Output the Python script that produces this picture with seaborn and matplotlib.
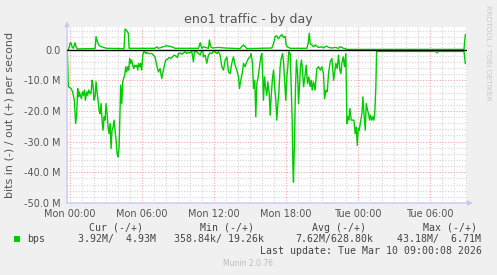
import numpy as np
import pandas as pd
import matplotlib
matplotlib.use("Agg")
import matplotlib.pyplot as plt
import seaborn as sns
from matplotlib.ticker import MultipleLocator, FixedLocator, FuncFormatter
from matplotlib.patches import Rectangle

# ---------------- data (hours since Mon 00:00, values in Mbit/s) ----------------
title = "eno1 traffic - by day"
y_label = "bits in (-) / out (+) per second"

in_hours = [-0.18, -0.10, 0.13, 0.26, 0.40, 0.51, 0.60, 0.68, 0.76, 0.82, 0.90, 0.99, 1.07, 1.15,
            1.24, 1.32, 1.43, 1.51, 1.60, 1.71, 1.79, 1.88, 1.96, 2.04, 2.13, 2.21, 2.29, 2.38,
            2.46, 2.54, 2.63, 2.71, 2.79, 2.88, 2.96, 3.04, 3.13, 3.21, 3.29, 3.38, 3.46, 3.54,
            3.63, 3.71, 3.79, 3.88, 3.96, 4.04, 4.13, 4.21, 4.26, 4.35, 4.43, 4.51, 4.60, 4.68,
            4.76, 4.85, 4.93, 5.01, 5.10, 5.18, 5.26, 5.35, 5.43, 5.51, 5.60, 5.68, 5.76, 5.85,
            5.93, 6.01, 6.10, 6.18, 6.26, 6.35, 6.43, 6.57, 6.85, 7.12, 7.26, 7.40, 7.54, 7.68,
            7.76, 7.88, 8.01, 8.15, 8.29, 8.43, 8.57, 8.71, 8.85, 8.99, 9.07, 9.21, 9.35, 9.49,
            9.63, 9.76, 9.90, 10.04, 10.18, 10.32, 10.40, 10.60, 10.74, 10.88, 11.01, 11.10, 11.15,
            11.29, 11.43, 11.57, 11.71, 11.85, 11.99, 12.12, 12.26, 12.40, 12.54, 12.68, 12.82,
            12.96, 13.10, 13.24, 13.38, 13.51, 13.65, 13.79, 13.93, 14.07, 14.15, 14.26, 14.38,
            14.49, 14.62, 14.76, 14.90, 15.04, 15.12, 15.24, 15.32, 15.43, 15.51, 15.60, 15.71,
            15.82, 15.93, 16.01, 16.10, 16.15, 16.24, 16.32, 16.43, 16.51, 16.63, 16.71, 16.79,
            16.90, 16.99, 17.07, 17.18, 17.26, 17.35, 17.43, 17.54, 17.63, 17.74, 17.82, 17.90,
            18.01, 18.10, 18.18, 18.26, 18.38, 18.46, 18.54, 18.60, 18.65, 18.74, 18.82, 18.90,
            18.99, 19.07, 19.15, 19.24, 19.32, 19.40, 19.49, 19.60, 19.71, 19.82, 19.93, 20.04,
            20.13, 20.21, 20.32, 20.45, 20.60, 20.74, 20.88, 21.01, 21.15, 21.24, 21.35, 21.46,
            21.57, 21.71, 21.85, 21.99, 22.07, 22.18, 22.29, 22.40, 22.51, 22.60, 22.68, 22.79,
            22.90, 23.01, 23.10, 23.18, 23.26, 23.35, 23.46, 23.57, 23.68, 23.79, 23.88, 23.96,
            24.04, 24.13, 24.21, 24.35, 24.43, 24.51, 24.63, 24.71, 24.82, 24.90, 24.99, 25.07,
            25.18, 25.26, 25.35, 25.43, 25.51, 25.57, 30.50, 30.60, 30.70, 32.85, 32.96]
in_mbps = [-0.8, -12.1, -12.7, -13.8, -16.5, -24.1, -20.9, -12.7, -15.4, -13.8, -14.9, -16.0, -13.8, -14.9,
           -13.2, -16.5, -13.8, -14.9, -13.2, -14.3, -14.3, -10.0, -11.6, -16.5, -15.4, -10.5, -13.8, -16.5,
           -19.8, -20.9, -17.6, -23.0, -26.3, -21.9, -23.0, -17.6, -20.9, -25.2, -27.4, -24.1, -32.3, -26.3,
           -25.2, -23.0, -26.3, -29.6, -33.9, -35.0, -31.7, -19.8, -11.6, -17.6, -10.5, -9.4, -8.3, -5.6,
           -7.3, -5.6, -6.7, -2.9, -4.5, -3.4, -5.1, -6.2, -5.1, -5.6, -5.1, -6.7, -4.5, -5.6,
           -4.5, -6.7, -1.8, -0.7, -0.7, -1.3, -0.9, -1.3, -1.3, -2.4, -5.1, -7.3, -6.2, -9.4,
           -7.8, -5.6, -3.4, -3.2, -2.6, -2.9, -2.4, -1.8, -2.1, -2.6, -1.3, -1.1, -1.5, -1.1,
           -0.7, -1.3, -0.9, -1.1, -0.5, -4.0, -0.7, -0.7, -1.3, -1.8, -0.4, -0.4, -2.4,
           -1.8, -4.5, -1.8, -1.1, -1.3, -0.5, -0.7, -1.3, -0.7, -1.8, -5.6, -6.7,
           -3.4, -2.4, -7.3, -7.8, -4.5, -2.4, -5.1, -6.7, -8.9, -12.7, -10.0, -7.8,
           -4.5, -5.6, -4.0, -2.9, -2.4, -1.3, -4.5, -12.7, -10.0, -21.9, -11.1, -8.9,
           -5.6, -2.4, -1.3, -10.0, -16.5, -8.9, -12.1, -14.9, -10.5, -14.3, -21.4, -15.4,
           -9.4, -6.7, -11.6, -16.5, -23.0, -17.6, -14.3, -5.6, -2.9, -1.3, -4.0, -9.4,
           -16.5, -8.9, -5.6, -0.7, -1.3, -12.1, -23.0, -38.2, -43.2, -28.5, -12.1, -3.4,
           -7.8, -17.6, -12.1, -5.1, -3.4, -6.7, -12.1, -8.9, -5.1, -11.1, -8.9, -12.1,
           -10.0, -13.2, -10.5, -13.2, -6.2, -5.6, -6.7, -5.6, -7.8, -16.0, -13.2, -13.8,
           -7.8, -4.0, -2.9, -10.0, -7.8, -4.5, -6.2, -1.8, -6.7, -7.8, -4.5, -2.4,
           -5.6, -1.3, -24.1, -21.9, -23.0, -19.2, -23.0, -23.0, -23.0, -27.4, -25.2, -31.2,
           -25.7, -26.3, -24.1, -20.9, -15.4, -20.3, -26.3, -17.6, -19.8, -20.9, -23.0, -21.4,
           -23.0, -21.9, -23.0, -19.8, -12.1, -0.6, -0.6, -1.1, -0.6, -0.6, -4.6]

out_hours = [-0.18, -0.10, -0.02, 0.04, 0.13, 0.21, 0.32, 0.46, 0.54, 0.65, 1.50, 2.13, 2.21, 2.32,
             2.43, 2.54, 2.68, 2.82, 3.10, 4.54, 4.63, 4.76, 4.90, 4.96, 7.12, 7.26, 7.40, 7.96,
             8.10, 8.24, 8.51, 8.80, 10.74, 10.88, 11.01, 11.15, 11.57, 11.65, 11.76, 11.90, 12.40,
             12.96, 14.20, 14.35, 14.49, 14.62, 14.76, 16.85, 16.99, 17.13, 17.26, 17.40, 17.54,
             17.68, 17.82, 17.96, 18.04, 18.15, 18.38, 19.76, 19.87, 19.96, 20.04, 20.18, 20.32,
             20.46, 20.60, 20.74, 21.01, 21.15, 21.29, 21.43, 21.57, 21.85, 22.12, 22.40, 22.54,
             22.68, 22.82, 22.96, 23.10, 32.85, 32.96]
out_mbps = [0.0, 0.0, 0.9, 2.0, 2.2, 0.9, 0.4, 2.2, 0.9, 0.2, 0.3, 0.3, 4.2, 2.6,
            1.5, 1.1, 0.9, 0.7, 0.4, 0.3, 6.7, 6.2, 5.3, 0.4, 0.4, 0.9, 0.4, 1.1,
            1.3, 1.1, 0.9, 0.4, 0.4, 2.2, 0.4, 0.9, 0.4, 3.1, 0.9, 0.5, 0.7,
            0.5, 0.3, 1.0, 1.5, 1.0, 0.3, 0.5, 2.0, 4.3, 4.5, 3.5, 4.3,
            4.9, 3.9, 4.3, 1.5, 0.9, 0.4, 0.4, 2.0, 5.3, 2.0, 1.5, 0.9,
            1.5, 1.1, 0.7, 0.9, 0.5, 0.9, 1.1, 0.7, 0.5, 0.7, 0.4, 0.9,
            0.7, 0.4, 0.3, 0.05, 0.05, 4.9]

tick_hours = [0, 6, 12, 18, 24, 30]
tick_labels = ["Mon 00:00", "Mon 06:00", "Mon 12:00", "Mon 18:00", "Tue 00:00", "Tue 06:00"]

legend_name = "bps"
legend_headers = ["Cur (-/+)", "Min (-/+)", "Avg (-/+)", "Max (-/+)"]
legend_values = ["3.92M/  4.93M", "358.84k/ 19.26k", "7.62M/628.80k", "43.18M/  6.71M"]
last_update = "Last update: Tue Mar 10 09:00:08 2026"
munin_version = "Munin 2.0.76"
side_text = "RRDTOOL / TOBI OETIKER"

# ---------------- style ----------------
sns.set_theme(style="white")
plt.rcParams['font.family'] = ['DejaVu Sans']

W, H = 497, 275
BG = '#F0F0F0'
GREEN = '#00CC00'
TXT = '#555555'

fig = plt.figure(figsize=(W / 100, H / 100), dpi=100, facecolor=BG)
ax = fig.add_axes([67 / W, (H - 203) / H, 400 / W, (203 - 27.3) / H])
ax.set_facecolor('white')

df_in = pd.DataFrame({'hour': in_hours, 'mbps': in_mbps})
df_out = pd.DataFrame({'hour': out_hours, 'mbps': out_mbps})
sns.lineplot(data=df_in, x='hour', y='mbps', color=GREEN, lw=1.0, estimator=None, ax=ax, zorder=3)
sns.lineplot(data=df_out, x='hour', y='mbps', color=GREEN, lw=1.0, estimator=None, ax=ax, zorder=3)
ax.axhline(0, color='black', lw=1.0, zorder=4)

ax.set_xlim(-0.21, 33.1)
ax.set_ylim(-50, 7.25)
ax.set_xlabel('')
ax.set_ylabel('')

ax.xaxis.set_major_locator(FixedLocator(tick_hours))
ax.set_xticklabels(tick_labels)
ax.xaxis.set_minor_locator(MultipleLocator(1))
ax.yaxis.set_major_locator(MultipleLocator(10))
ax.yaxis.set_minor_locator(MultipleLocator(2))
ax.yaxis.set_major_formatter(FuncFormatter(lambda v, p: '0.0' if abs(v) < 1e-9 else f'{v:.1f} M'))

ax.grid(which='minor', color='#D4D4D4', ls=(0, (1, 1.5)), lw=0.8, zorder=0)
ax.grid(which='major', color='#F0A8A8', ls=(0, (1, 1.5)), lw=0.8, zorder=0)
ax.set_axisbelow(True)

ax.tick_params(which='both', length=0, labelsize=7, labelcolor=TXT)
ax.tick_params(axis='y', pad=4.5)
ax.tick_params(axis='x', pad=4)
for s in ax.spines.values():
    s.set_visible(False)

# axis arrows
AX_COL = '#C8C8F4'
ax.annotate('', xy=(0, 1.035), xytext=(0, 0), xycoords='axes fraction',
            arrowprops=dict(arrowstyle='-|>', color=AX_COL, lw=1, mutation_scale=7, shrinkA=0, shrinkB=0),
            annotation_clip=False)
ax.annotate('', xy=(1.015, 0), xytext=(0, 0), xycoords='axes fraction',
            arrowprops=dict(arrowstyle='-|>', color=AX_COL, lw=1, mutation_scale=7, shrinkA=0, shrinkB=0),
            annotation_clip=False)

def fx(px):
    return px / W

def fy(py):
    return 1 - py / H

fig.text(fx(248), fy(19), title, ha='center', va='center', fontsize=9.1, color=TXT)
fig.text(fx(10), fy(115), y_label, ha='center', va='center', rotation=90, fontsize=8, color=TXT)
fig.text(fx(488), fy(53), side_text, ha='center', va='center', rotation=270, fontsize=5.4, color='#C8C8C8')

MONO = 'DejaVu Sans Mono'
header_x = [89, 200, 311.7, 422.7]
value_x = [78, 174, 295, 396.7]
for hx, htxt in zip(header_x, legend_headers):
    fig.text(fx(hx), fy(227.7), htxt, ha='left', va='center', fontsize=7.1, family=MONO, color='#444444')
for vx, vtxt in zip(value_x, legend_values):
    fig.text(fx(vx), fy(239.3), vtxt, ha='left', va='center', fontsize=7.1, family=MONO, color='#444444')
fig.text(fx(27), fy(239.3), legend_name, ha='left', va='center', fontsize=7.1, family=MONO, color='#444444')
fig.add_artist(Rectangle((fx(14), fy(242)), 6 / W, 6 / H, transform=fig.transFigure,
                         facecolor=GREEN, edgecolor='none'))
fig.text(fx(482), fy(251), last_update, ha='right', va='center', fontsize=7.1, family=MONO, color='#444444')
fig.text(fx(248), fy(264), munin_version, ha='center', va='center', fontsize=5.5, color='#BBBBBB')

fig.savefig('out.png', dpi=100, facecolor=BG)
